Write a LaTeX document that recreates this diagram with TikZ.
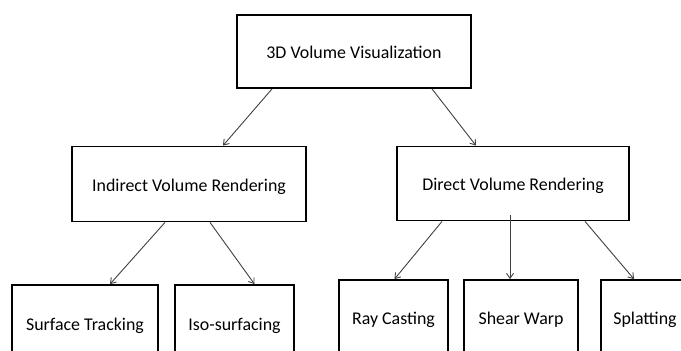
\documentclass[tikz,border=0pt]{standalone}
\usepackage{fontspec}
\setmainfont{Carlito}
\usetikzlibrary{arrows.meta}

\begin{document}
\begin{tikzpicture}[x=1pt,y=-1pt,
    box/.style={draw,line width=1.8pt,inner sep=0pt,text height=14pt,text depth=0pt,font=\fontsize{17.9}{21}\selectfont},
    link/.style={draw=black!75,line width=0.9pt,-{Straight Barb[length=5pt,width=7pt]}}]
\useasboundingbox (0,0) rectangle (681,351);
\clip (0,0) rectangle (681,351);
% root and the two rendering families
\node[box,minimum width=234pt,minimum height=73pt] (vis) at (354,51.5) {3D Volume Visualization};
\node[box,minimum width=234pt,minimum height=75pt] (indirect) at (189,184) {Indirect Volume Rendering};
\node[box,minimum width=232pt,minimum height=74pt] (direct) at (513,183.5) {Direct Volume Rendering};
% leaves
\node[box,minimum width=146pt,minimum height=76pt] (surface) at (85,323) {Surface Tracking};
\node[box,minimum width=119pt,minimum height=76pt] (iso) at (234.5,323) {Iso-surfacing};
\node[box,minimum width=109pt,minimum height=74pt] (ray) at (393.5,317) {Ray Casting};
\node[box,minimum width=114pt,minimum height=74pt] (shear) at (521,317) {Shear Warp};
\node[box,minimum width=88pt,minimum height=74pt] (splat) at (645,317) {Splatting};

\draw[link] ([xshift=-82pt]vis.south) -- ([xshift=34pt]indirect.north);
\draw[link] ([xshift=78pt]vis.south) -- ([xshift=-37pt]direct.north);
\draw[link] ([xshift=-24pt]indirect.south) -- ([xshift=25pt]surface.north);
\draw[link] ([xshift=21pt]indirect.south) -- ([xshift=20pt]iso.north);
\draw[link] ([xshift=-71pt]direct.south) -- ([xshift=1pt]ray.north);
\draw[link] ([xshift=-3pt,yshift=6pt]direct.south) -- ([xshift=-11pt]shear.north);
\draw[link] ([xshift=72pt]direct.south) -- ([xshift=-11pt]splat.north);
\end{tikzpicture}
\end{document}
